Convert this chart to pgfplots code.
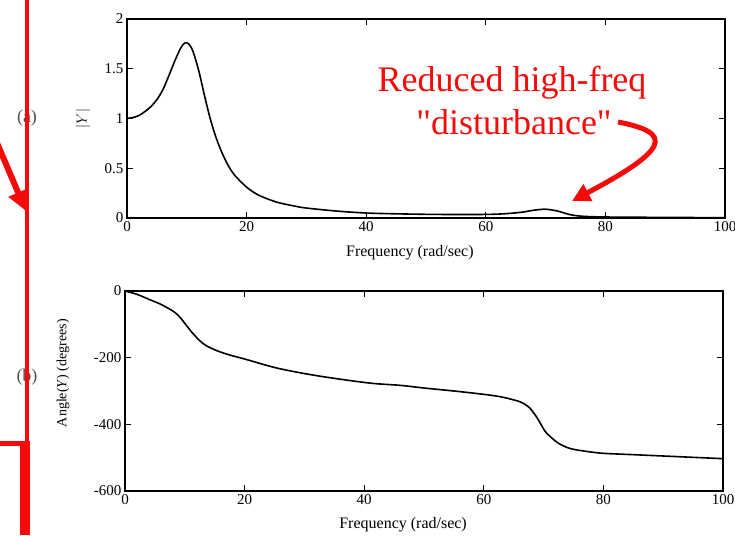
\documentclass[border=0pt]{standalone}
\usepackage{pgfplots}
\pgfplotsset{compat=1.18}
\usepackage{fontspec}
\setmainfont{Liberation Serif}
\newfontfamily\annfont{Liberation Serif}[Ligatures=TeXOff]
\usetikzlibrary{arrows.meta}
\definecolor{annred}{RGB}{245,10,10}
\definecolor{scangray}{RGB}{80,80,80}

\pgfplotstableread{
x y
0 1.00
1 1.01
2 1.03
3 1.07
4 1.12
5 1.19
6 1.29
7 1.43
8 1.58
9 1.71
9.7 1.76
10.3 1.75
11 1.68
12 1.48
13 1.22
14 0.98
15 0.79
16 0.64
17 0.52
18 0.43
20 0.31
22 0.23
25 0.16
28 0.12
30 0.10
35 0.07
40 0.05
45 0.042
50 0.037
55 0.035
60 0.036
63 0.042
66 0.058
68 0.078
70 0.088
72 0.07
74 0.035
76 0.018
80 0.010
90 0.006
100 0.003
}\magdata

\pgfplotstableread{
x y
0 0
2 -10
4 -25
6 -40
8 -60
9 -75
10 -97
11 -120
12 -140
13 -157
14 -168
15.5 -180
17.5 -192
20 -204
25.6 -232
32.4 -255
40.8 -276
46 -283
50 -291
55 -300
60 -310
63 -318
66 -332
67.5 -348
68.6 -372
69.5 -398
70.3 -422
71.5 -443
72.5 -457
74 -470
75.3 -476
77.5 -482
80 -487
85 -491
90 -495
95 -499
100 -503
}\phasedata

\pgfplotsset{
  scanaxis/.style={
    scale only axis,
    width=598pt,
    xmin=0, xmax=100,
    xtick={0,20,40,60,80,100},
    tick align=inside,
    major tick length=6pt,
    axis line style={line width=1.5pt, black},
    tick style={line width=1pt, black},
    /pgf/number format/assume math mode=true,
    ticklabel style={font=\fontsize{15}{15}\selectfont},
    label style={font=\fontsize{15}{15}\selectfont},
  }
}

\begin{document}
\begin{tikzpicture}
\path[use as bounding box] (0,0) rectangle (735pt,535pt);

% grey panel labels
\node[text=scangray, font=\fontsize{18}{18}\selectfont] at (27pt,417pt) {(a)};
\node[text=scangray, font=\fontsize{18}{18}\selectfont] at (27pt,158pt) {(b)};

\begin{axis}[scanaxis,
  at={(127pt,317pt)}, anchor=south west,
  height=199pt,
  ymin=0, ymax=2,
  ytick={0,0.5,1,1.5,2},
  yticklabels={0,0.5,1,1.5,2},
  xlabel={Frequency (rad/sec)},
  xlabel style={at={(axis description cs:0.473,0)}, anchor=center, yshift=-35pt, font=\fontsize{16}{16}\selectfont},
  ylabel={$|Y|$},
  ylabel style={at={(axis description cs:0,0.5)}, anchor=center, yshift=44pt, font=\fontsize{15}{15}\selectfont},
]
\addplot[black, line width=1.6pt, smooth] table[x=x,y=y] {\magdata};
\end{axis}

\begin{axis}[scanaxis,
  at={(125pt,44pt)}, anchor=south west,
  height=200pt,
  ymin=-600, ymax=0,
  ytick={-600,-400,-200,0},
  xlabel={Frequency (rad/sec)},
  xlabel style={at={(axis description cs:0.465,0)}, anchor=center, yshift=-34pt, font=\fontsize{16}{16}\selectfont},
  ylabel={Angle(\textit{Y}) (degrees)},
  ylabel style={at={(axis description cs:0,0.59)}, anchor=center, yshift=62pt, font=\fontsize{14}{14}\selectfont},
]
\addplot[black, line width=1.6pt, smooth] table[x=x,y=y] {\phasedata};
\end{axis}

% red annotations
\draw[annred, line width=4pt] (27pt,535pt) -- (27pt,92pt);
\fill[annred] (20pt,0pt) rectangle (29.5pt,94pt);
\fill[annred] (0pt,89.5pt) rectangle (22pt,94pt);
\draw[annred, line width=6pt, -{Triangle[length=20pt,width=20pt]}] (-3pt,392pt) -- (26pt,324pt);

\node[text=annred, anchor=base, font=\annfont\fontsize{36}{36}\selectfont] at (512pt,443pt) {Reduced high-freq};
\node[text=annred, anchor=base, font=\annfont\fontsize{36}{36}\selectfont] at (514pt,400pt) {"disturbance"};
\draw[annred, line width=5pt, -{Triangle[length=18pt,width=18pt]}] (618pt,413pt) .. controls (675pt,402pt) and (668pt,385pt) .. (572pt,334pt);
\end{tikzpicture}
\end{document}
